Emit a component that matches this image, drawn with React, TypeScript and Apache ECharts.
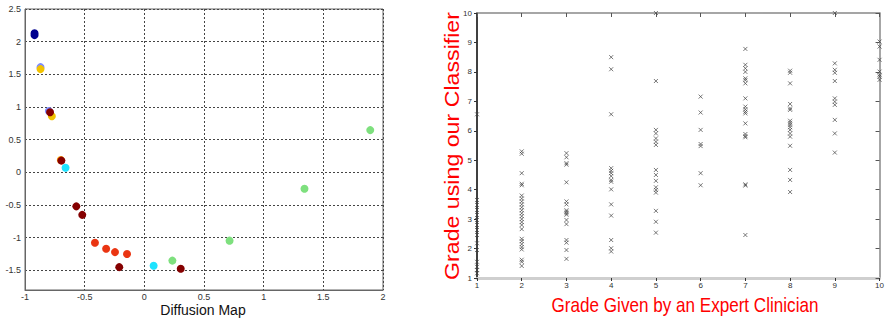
import React, { useEffect, useRef } from "react";
import * as echarts from "echarts";

// ---- Left chart: Diffusion Map embedding (points grouped by colour) ----
const navyPts = [[-0.92, 2.13], [-0.92, 2.1]];
const lightBluePts = [[-0.87, 1.61], [-0.8, 0.94]];
const goldPts = [[-0.87, 1.58], [-0.775, 0.86]];
const orangePts = [[-0.7, 0.19]];
const cyanPts = [[-0.66, 0.07], [0.078, -1.43]];
const greenPts = [[0.235, -1.35], [0.714, -1.045], [1.342, -0.25], [1.893, 0.647]];
const redOrangePts = [[-0.414, -1.076], [-0.32, -1.17], [-0.246, -1.22], [-0.145, -1.25]];
const darkRedPts = [[-0.79, 0.92], [-0.695, 0.18], [-0.57, -0.52], [-0.52, -0.65], [-0.21, -1.45], [0.305, -1.475]];

const leftXTicks = [-1, -0.5, 0, 0.5, 1, 1.5, 2];
const leftYMin = -1.8;
const leftYMax = 2.5;

// ---- Right chart: classifier grade vs expert grade ----
const grades = [1, 2, 3, 4, 5, 6, 7, 8, 9, 10];
const grade1 = [6.56, 3.65, 3.48, 3.31, 3.14, 2.97, 2.8, 2.63, 2.46, 2.18, 1.95, 1.55, 1.38, 1.27, 1.16];
const grade2 = [5.3, 5.22, 4.56, 4.2, 4.15, 3.8, 3.7, 3.6, 3.5, 3.4, 3.3, 3.2, 3.1, 3.0, 2.9, 2.8, 2.66, 2.33, 2.25, 2.15, 2.05, 1.97, 1.62, 1.55, 1.41];
const grade3 = [5.24, 5.1, 4.9, 4.85, 4.25, 3.6, 3.5, 3.3, 3.25, 3.2, 3.15, 2.97, 2.83, 2.29, 2.2, 1.95, 1.65];
const grade4 = [8.5, 8.09, 6.56, 4.73, 4.64, 4.56, 4.46, 4.33, 4.27, 4.01, 3.5, 3.12, 2.29, 2.01, 1.9];
const grade5 = [10, 7.69, 6.03, 5.91, 5.74, 5.63, 5.52, 4.67, 4.5, 4.3, 4.08, 3.99, 3.9, 3.28, 2.91, 2.54];
const grade6 = [7.16, 6.62, 6.03, 5.55, 5.48, 4.56, 4.15];
const grade7 = [8.78, 8.24, 8.12, 8.0, 7.78, 7.72, 7.61, 7.1, 6.82, 6.73, 6.65, 6.59, 6.25, 5.89, 5.82, 5.78, 4.18, 4.14, 2.46];
const grade8 = [8.04, 7.97, 7.61, 6.91, 6.76, 6.71, 6.34, 6.27, 6.2, 6.12, 6.03, 5.91, 5.8, 5.49, 4.67, 4.33, 3.92];
const grade9 = [10, 8.29, 8.07, 7.97, 7.69, 7.1, 6.99, 6.88, 6.37, 5.91, 5.26];
const grade10 = [9.03, 8.86, 8.41, 8.01, 7.9, 7.84, 7.73];
const gradeScores = [grade1, grade2, grade3, grade4, grade5, grade6, grade7, grade8, grade9, grade10];

const xTitle = "Grade Given by an Expert Clinician";
const yTitle = "Grade using our Classifier";
const leftTitle = "Diffusion Map";

export default function App() {
  const ref = useRef<HTMLDivElement>(null);
  useEffect(() => {
    if (!ref.current) return;
    const chart = echarts.init(ref.current, undefined, { renderer: "svg" });
    const font = "Liberation Sans, Arial, sans-serif";
    const dot = (data: number[][], color: string, z = 2) => ({
      type: "scatter",
      xAxisIndex: 0,
      yAxisIndex: 0,
      data,
      symbolSize: 8,
      z,
      itemStyle: { color, opacity: 1 },
    });
    const rightData: number[][] = [];
    grades.forEach((g, i) => gradeScores[i].forEach((v) => rightData.push([g, v])));

    const gridLine = () => ({ show: true, lineStyle: { color: "#444", type: [2, 2], width: 1, opacity: 1 } });

    chart.setOption({
      animation: false,
      grid: [
        { left: 25, top: 9, width: 358, height: 281, show: true, borderColor: "#666", borderWidth: 1, backgroundColor: "rgba(0,0,0,0)" },
        { left: 477, top: 13, width: 405, height: 265 },
      ],
      xAxis: [
        {
          gridIndex: 0, type: "value", min: leftXTicks[0], max: leftXTicks[leftXTicks.length - 1], interval: 0.5,
          axisLine: { show: true, onZero: false, lineStyle: { color: "#666" } }, axisTick: { show: false },
          axisLabel: { fontSize: 9, color: "#333", margin: 2, fontFamily: font },
          splitLine: gridLine(),
        },
        {
          gridIndex: 1, type: "value", min: 1, max: 10, interval: 1, position: "bottom",
          axisLine: { show: true, onZero: false, lineStyle: { color: "#cfcfcf", width: 3 } },
          axisTick: { show: true, length: 3, lineStyle: { color: "#333" } },
          axisLabel: { fontSize: 8, color: "#333", margin: 3, fontFamily: font },
          splitLine: { show: false },
        },
        {
          gridIndex: 1, type: "value", min: 1, max: 10, interval: 1, position: "top",
          axisLine: { show: true, onZero: false, lineStyle: { color: "#888", width: 1.5 } },
          axisTick: { show: true, inside: true, length: 4, lineStyle: { color: "#555" } },
          axisLabel: { show: false }, splitLine: { show: false },
        },
      ],
      yAxis: [
        {
          gridIndex: 0, type: "value", min: leftYMin, max: leftYMax, splitNumber: 9,
          axisLine: { show: true, onZero: false, lineStyle: { color: "#666" } }, axisTick: { show: false },
          axisLabel: {
            fontSize: 9, color: "#333", margin: 4, fontFamily: font,
            formatter: (v: number) => (Math.abs(v * 2 - Math.round(v * 2)) < 1e-6 ? String(Math.round(v * 10) / 10) : ""),
          },
          splitLine: gridLine(),
        },
        {
          gridIndex: 1, type: "value", min: 1, max: 10, interval: 1, position: "left",
          axisLine: { show: true, onZero: false, lineStyle: { color: "#000", width: 1.5 } },
          axisTick: { show: true, length: 3, lineStyle: { color: "#333" } },
          axisLabel: { fontSize: 8, color: "#333", margin: 5, fontFamily: font },
          splitLine: { show: false },
        },
        {
          gridIndex: 1, type: "value", min: 1, max: 10, interval: 1, position: "right",
          axisLine: { show: true, onZero: false, lineStyle: { color: "#888", width: 1.5 } },
          axisTick: { show: true, inside: true, length: 4, lineStyle: { color: "#555" } },
          axisLabel: { show: false }, splitLine: { show: false },
        },
      ],
      series: [
        dot(lightBluePts, "#7d8cff", 2),
        dot(navyPts, "#00008f", 3),
        dot(goldPts, "#f2c200", 3),
        dot(orangePts, "#ff9a00", 2),
        dot(cyanPts, "#1ee3ff", 3),
        dot(greenPts, "#7ee07e", 3),
        dot(redOrangePts, "#ea3512", 3),
        dot(darkRedPts, "#850000", 4),
        {
          type: "scatter",
          xAxisIndex: 1,
          yAxisIndex: 1,
          data: rightData,
          symbol: "path://M0,0L10,10M10,0L0,10",
          symbolSize: 4,
          clip: false,
          z: 5,
          itemStyle: { color: "rgba(0,0,0,0)", borderColor: "#444", borderWidth: 0.9 },
        },
      ],
      graphic: [
        {
          type: "text", x: 203, y: 310,
          style: { text: leftTitle, font: `14px ${font}`, fill: "#111", align: "center", verticalAlign: "middle" },
        },
        {
          type: "text", x: 685, y: 305, scaleX: 0.855,
          style: { text: xTitle, font: `20px ${font}`, fill: "#ff0000", align: "center", verticalAlign: "middle" },
        },
        {
          type: "text", x: 452, y: 146, rotation: Math.PI / 2, scaleX: 1.16,
          style: { text: yTitle, font: `20px ${font}`, fill: "#ff0000", align: "center", verticalAlign: "middle" },
        },
      ],
    });
    return () => chart.dispose();
  }, []);
  return <div ref={ref} style={{ position: "fixed", left: 0, top: 0, width: 887, height: 320, background: "#fff" }} />;
}
